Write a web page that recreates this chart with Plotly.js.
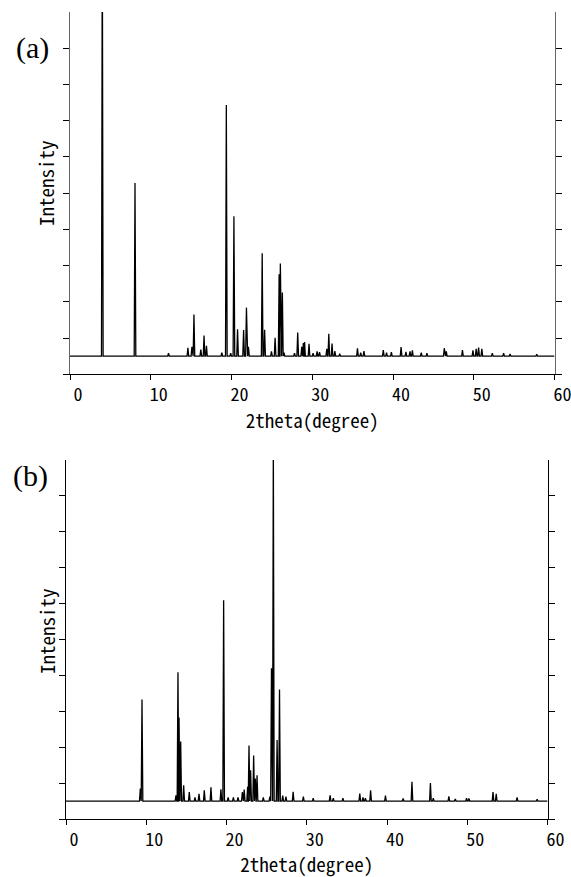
<!DOCTYPE html>
<html>
<head>
<meta charset="utf-8">
<script src="https://cdn.plot.ly/plotly-3.0.1.min.js"></script>
<style>html,body{margin:0;padding:0;background:#fff;}#chart{width:571px;height:877px;}</style>
</head>
<body>
<div id="chart"></div>
<script>
// ---- Data (2theta in degrees, relative intensity; baseline = 0) ----
const xTicks = [0, 10, 20, 30, 40, 50, 60];
const xRange = [0, 60];

// Pattern (a): peak positions and peak heights
const peaksA_2theta = [4.0, 8.05, 12.2, 14.6, 15.1, 15.35, 16.2, 16.6, 16.9, 18.8, 19.36, 19.9, 20.3, 20.75,
  21.5, 21.85, 22.1, 23.8, 24.1, 24.95, 25.4, 25.9, 26.05, 26.3, 26.5, 27.8, 28.2, 28.7, 28.9, 29.05,
  29.6, 30.1, 30.6, 30.9, 31.8, 32.05, 32.45, 32.8, 33.4, 35.6, 36.0, 36.4, 38.8, 39.2, 39.8, 41.0,
  41.6, 42.1, 42.4, 43.5, 44.2, 46.35, 46.6, 48.6, 49.9, 50.3, 50.6, 51.0, 52.3, 53.7, 54.5, 57.8];
const peaksA_height = [120, 47.8, 0.8, 2.3, 2.6, 11.5, 1.8, 5.7, 2.9, 1.0, 69.3, 0.8, 38.6, 7.4,
  7.2, 13.4, 2.6, 28.4, 7.3, 1.3, 5.1, 22.6, 25.6, 17.6, 1.0, 0.8, 6.5, 2.6, 3.6, 3.9,
  3.4, 0.8, 1.3, 1.1, 2.0, 6.2, 3.5, 1.4, 0.7, 2.2, 1.0, 1.4, 1.7, 1.0, 1.1, 2.5,
  1.2, 1.3, 1.6, 1.0, 0.8, 2.2, 1.3, 1.7, 1.6, 2.0, 2.4, 2.0, 0.8, 0.8, 0.6, 0.5];

// Pattern (b): peak positions and peak heights
const peaksB_2theta = [9.26, 9.47, 13.7, 13.95, 14.08, 14.29, 14.66, 15.36, 16.07, 16.57, 17.23, 18.06, 19.3,
  19.64, 20.2, 20.85, 21.43, 21.97, 22.2, 22.63, 22.8, 23.0, 23.38, 23.58, 23.8, 24.58, 25.4, 25.6, 25.83,
  26.3, 26.6, 27.0, 27.4, 28.3, 29.57, 30.8, 32.9, 33.3, 34.5, 36.6, 37.0, 37.3, 37.95, 39.8, 42.0,
  43.1, 45.4, 45.76, 47.7, 48.5, 49.9, 50.2, 53.2, 53.6, 56.2, 58.7];
const peaksB_height = [3.5, 28.3, 1.6, 35.9, 23.3, 16.6, 4.4, 2.5, 1.0, 2.0, 3.0, 3.8, 3.3,
  55.9, 1.0, 1.0, 1.0, 2.5, 3.2, 4.0, 15.5, 8.6, 12.7, 6.3, 7.2, 1.0, 1.2, 37, 100,
  17, 31.1, 1.5, 1.2, 2.6, 1.2, 0.8, 1.6, 0.8, 0.8, 2.1, 1.0, 0.8, 3.0, 1.5, 0.7,
  5.4, 5.0, 0.8, 1.3, 0.6, 0.8, 0.7, 2.5, 2.0, 1.0, 0.5];

// ---- Build a line profile (narrow peak on a flat baseline) from each peak list ----
const HALF_WIDTH = 0.1; // peak half-width in degrees (drawing style)
function profile(pos, h) {
  const idx = pos.map((p, i) => i).sort((a, b) => pos[a] - pos[b]);
  const xs = [xRange[0]], ys = [0];
  idx.forEach(i => {
    xs.push(pos[i] - HALF_WIDTH, pos[i], pos[i] + HALF_WIDTH);
    ys.push(0, h[i], 0);
  });
  xs.push(xRange[1]); ys.push(0);
  return {x: xs, y: ys};
}
const pa = profile(peaksA_2theta, peaksA_height);
const pb = profile(peaksB_2theta, peaksB_height);

const W = 571, H = 877;
const FAM = 'Noto Sans Mono CJK JP, Noto Sans CJK JP, DejaVu Sans';
const tickFont = {family: FAM, size: 18, color: '#000'};
const titleFont = {family: FAM, size: 19, color: '#000'};

const traces = [
  {x: pa.x, y: pa.y, xaxis: 'x', yaxis: 'y', type: 'scatter', mode: 'lines',
   line: {color: '#000', width: 1.3}, hoverinfo: 'skip'},
  {x: pb.x, y: pb.y, xaxis: 'x2', yaxis: 'y2', type: 'scatter', mode: 'lines',
   line: {color: '#000', width: 1.3}, hoverinfo: 'skip'}
];

function xAx(domain, anchor) {
  return {domain: domain, anchor: anchor, range: xRange, tickvals: xTicks, ticktext: xTicks.map(String),
    ticks: 'outside', ticklen: 5, tickwidth: 1, tickcolor: '#000',
    showline: true, linecolor: '#000', linewidth: 1, mirror: false,
    showgrid: false, zeroline: false, tickfont: tickFont, ticklabelshift: 8, ticklabelstandoff: -1,
    ticklabeloverflow: 'allow',
    title: {text: '2theta(degree)', font: titleFont, standoff: 7}, fixedrange: true};
}
function yAx(domain, anchor, lc) {
  return {domain: domain, anchor: anchor, range: [-5, 95], tickvals: [-5, 5, 15, 25, 35, 45, 55, 65, 75, 85],
    ticks: 'outside', ticklen: 6, tickwidth: 1, tickcolor: '#000',
    showline: true, linecolor: lc, linewidth: 1.2, mirror: 'ticks',
    showgrid: false, zeroline: false, showticklabels: false, fixedrange: true};
}

const layout = {
  width: W, height: H,
  margin: {l: 0, r: 0, t: 0, b: 0},
  paper_bgcolor: '#fff', plot_bgcolor: '#fff',
  showlegend: false,
  xaxis: xAx([70 / W, 554.5 / W], 'y'),
  yaxis: yAx([1 - 374.3 / H, 1 - 12 / H], 'x', '#666'),
  xaxis2: xAx([66 / W, 547.6 / W], 'y2'),
  yaxis2: yAx([1 - 819 / H, 1 - 460 / H], 'x2', '#000'),
  annotations: [
    {text: '(a)', xref: 'paper', yref: 'paper', x: 32 / W, y: 1 - 48 / H, showarrow: false,
     xanchor: 'center', yanchor: 'middle', font: {family: 'Liberation Serif, Times New Roman, serif', size: 30, color: '#000'}},
    {text: '(b)', xref: 'paper', yref: 'paper', x: 30 / W, y: 1 - 476 / H, showarrow: false,
     xanchor: 'center', yanchor: 'middle', font: {family: 'Liberation Serif, Times New Roman, serif', size: 30, color: '#000'}},
    {text: 'Intensity', xref: 'paper', yref: 'paper', x: 46 / W, y: 1 - 183 / H, showarrow: false, textangle: -90,
     xanchor: 'center', yanchor: 'middle', font: titleFont},
    {text: 'Intensity', xref: 'paper', yref: 'paper', x: 46 / W, y: 1 - 631 / H, showarrow: false, textangle: -90,
     xanchor: 'center', yanchor: 'middle', font: titleFont}
  ]
};

Plotly.newPlot('chart', traces, layout, {staticPlot: true, displayModeBar: false});
</script>
</body>
</html>
